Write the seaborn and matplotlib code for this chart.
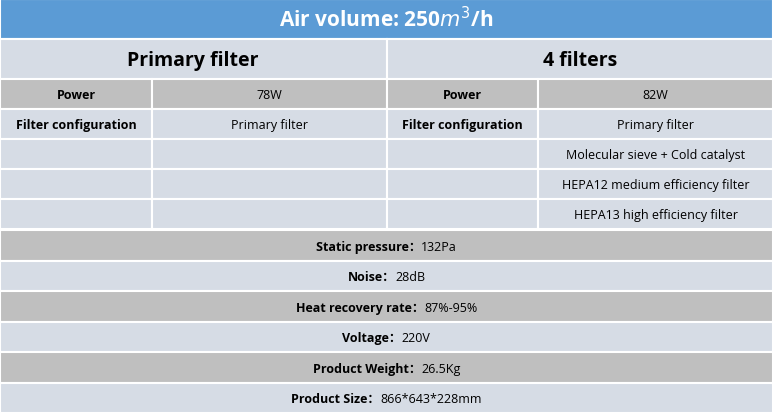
import matplotlib
matplotlib.use("Agg")
import matplotlib.pyplot as plt
from matplotlib.patches import Rectangle
import seaborn as sns

sns.set_style("white")
plt.rcParams['font.family'] = ['Open Sans', 'Noto Sans CJK SC', 'DejaVu Sans']

title = "Air volume: 250$m^3$/h"
groups = ["Primary filter", "4 filters"]
left_rows = [("Power", "78W"), ("Filter configuration", "Primary filter"), ("", ""), ("", ""), ("", "")]
right_rows = [("Power", "82W"), ("Filter configuration", "Primary filter"),
              ("", "Molecular sieve + Cold catalyst"),
              ("", "HEPA12 medium efficiency filter"),
              ("", "HEPA13 high efficiency filter")]
spec_labels = ["Static pressure", "Noise", "Heat recovery rate", "Voltage", "Product Weight", "Product Size"]
spec_values = ["132Pa", "28dB", "87%-95%", "220V", "26.5Kg", "866*643*228mm"]

W, H = 773, 414
fig = plt.figure(figsize=(W/100, H/100), dpi=100)
ax = fig.add_axes([0, 0, 1, 1])
ax.set_xlim(0, W); ax.set_ylim(H, 0); ax.axis('off')
renderer = fig.canvas.get_renderer()

BLUE = "#5B9BD5"; LIGHT = "#D6DCE5"; GRAY = "#BFBFBF"; EC = "white"

def cell(x0, y0, x1, y1, fc):
    ax.add_patch(Rectangle((x0, y0), x1-x0, y1-y0, fc=fc, ec=EC, lw=1.5))

cell(0, 0, W, 40, BLUE)
ax.text(W/2, 20, title, ha='center', va='center', color='white', fontsize=15, fontweight='bold')
cols = [0, 152, 387, 538, W]
cell(0, 40, 387, 80, LIGHT); cell(387, 40, W, 80, LIGHT)
ax.text(193, 61, groups[0], ha='center', va='center', fontsize=14, fontweight='bold', color='black')
ax.text(580, 61, groups[1], ha='center', va='center', fontsize=14, fontweight='bold', color='black')
y = 80
for i in range(5):
    fc = GRAY if i == 0 else LIGHT
    y1 = y + 30
    for k, rows in enumerate([left_rows, right_rows]):
        a, b = rows[i]
        xa, xb, xc = cols[2*k], cols[2*k+1], cols[2*k+2]
        cell(xa, y, xb, y1, fc); cell(xb, y, xc, y1, fc)
        ax.text((xa+xb)/2, (y+y1)/2+1, a, ha='center', va='center', fontsize=9, fontweight='bold', color='black')
        ax.text((xb+xc)/2, (y+y1)/2+1, b, ha='center', va='center', fontsize=9, color='black')
    y = y1
y = 231
rh = (H - y) / len(spec_labels)
for i, (l, v) in enumerate(zip(spec_labels, spec_values)):
    fc = GRAY if i % 2 == 0 else LIGHT
    cell(0, y, W, y+rh, fc)
    t1 = ax.text(0, y+rh/2+1, l + "：", ha='left', va='center', fontsize=9, fontweight='bold', color='black')
    t2 = ax.text(0, y+rh/2+1, v, ha='left', va='center', fontsize=9, color='black')
    w1 = t1.get_window_extent(renderer).width
    w2 = t2.get_window_extent(renderer).width
    x0 = W/2 - (w1 + w2)/2
    t1.set_x(x0); t2.set_x(x0 + w1)
    y += rh

fig.savefig("out.png", dpi=100)
